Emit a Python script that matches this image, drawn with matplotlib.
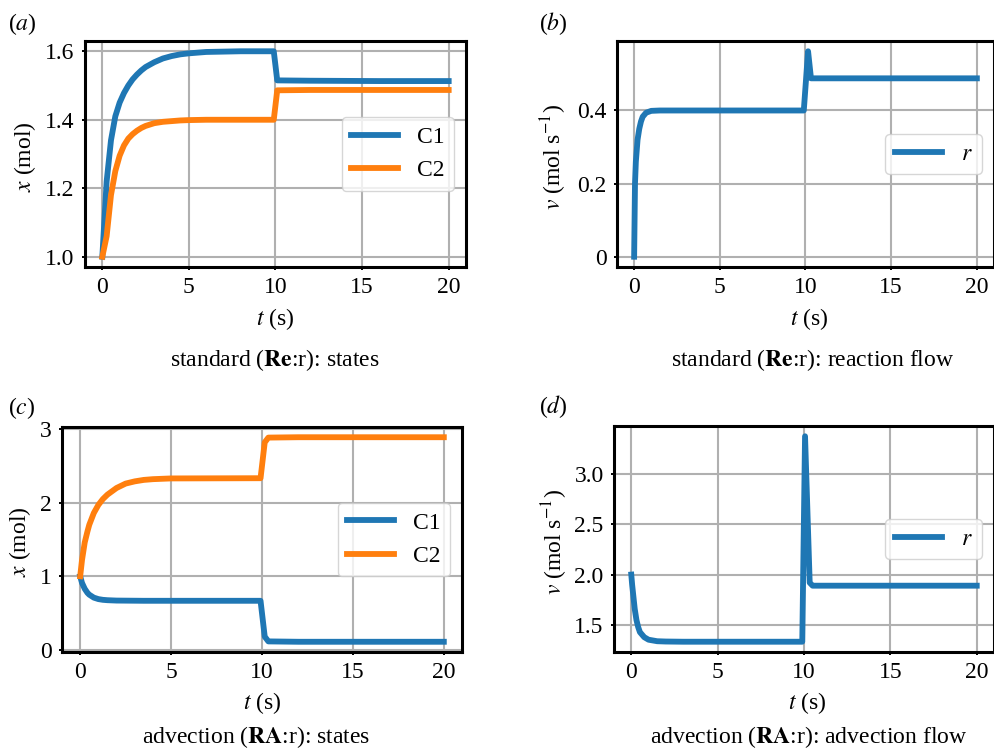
import matplotlib
matplotlib.use("Agg")
import matplotlib.pyplot as plt

plt.rcParams['font.family'] = ['Liberation Serif', 'DejaVu Serif']
plt.rcParams['mathtext.fontset'] = 'stix'

# ---------------- data ----------------
# (a) standard: states
t_a = [0, 0.25, 0.5, 0.75, 1.0, 1.25, 1.5, 1.75, 2.0, 2.25, 2.5, 3.0, 3.5, 4.0, 4.5, 5.0, 6.0, 7.0, 8.0,
       9.9, 10.1, 12.0, 16.0, 20.0]
c1_a = [1.0, 1.22, 1.34, 1.41, 1.45, 1.478, 1.50, 1.518, 1.532, 1.544, 1.554, 1.568, 1.579, 1.586, 1.591,
        1.594, 1.598, 1.599, 1.60, 1.60, 1.515, 1.514, 1.513, 1.513]
c2_a = [1.0, 1.06, 1.18, 1.25, 1.295, 1.325, 1.345, 1.358, 1.368, 1.376, 1.382, 1.39, 1.394, 1.396, 1.398,
        1.399, 1.40, 1.40, 1.40, 1.40, 1.486, 1.487, 1.487, 1.487]

# (b) standard: reaction flow
t_b = [0, 0.05, 0.1, 0.2, 0.3, 0.4, 0.5, 0.7, 1.0, 1.5, 2.0, 5.0, 9.9, 10.15, 10.32, 12.0, 20.0]
v_b = [0.0, 0.2, 0.26, 0.32, 0.35, 0.37, 0.383, 0.394, 0.399, 0.4, 0.4, 0.4, 0.4, 0.562, 0.488, 0.488, 0.488]

# (c) advection: states
t_c = [0, 0.1, 0.25, 0.4, 0.5, 0.75, 1.0, 1.25, 1.5, 2.0, 2.5, 3.0, 3.5, 4.0, 5.0, 9.92, 10.15, 10.35, 12.0, 20.0]
c1_c = [1.0, 0.91, 0.83, 0.775, 0.75, 0.71, 0.69, 0.68, 0.675, 0.67, 0.669, 0.668, 0.667, 0.667, 0.667,
        0.667, 0.18, 0.115, 0.11, 0.11]
c2_c = [1.0, 1.22, 1.46, 1.61, 1.70, 1.86, 1.97, 2.05, 2.11, 2.20, 2.26, 2.29, 2.31, 2.32, 2.33,
        2.333, 2.82, 2.885, 2.89, 2.89]

# (d) advection: advection flow
t_d = [0, 0.05, 0.1, 0.2, 0.3, 0.4, 0.5, 0.75, 1.0, 1.5, 2.0, 3.0, 9.9, 10.06, 10.33, 10.5, 12.0, 20.0]
v_d = [2.0, 1.9, 1.82, 1.66, 1.55, 1.48, 1.43, 1.38, 1.355, 1.34, 1.337, 1.335, 1.335, 3.37, 1.92, 1.89, 1.89, 1.89]

xticks = [0, 5, 10, 15, 20]
yticks_a = [1.0, 1.2, 1.4, 1.6]
ylabels_a = ['1.0', '1.2', '1.4', '1.6']
yticks_b = [0.0, 0.2, 0.4]
ylabels_b = ['0', '0.2', '0.4']
yticks_c = [0, 1, 2, 3]
ylabels_c = ['0', '1', '2', '3']
yticks_d = [1.5, 2.0, 2.5, 3.0]
ylabels_d = ['1.5', '2.0', '2.5', '3.0']

BLUE = '#1f77b4'
ORANGE = '#ff7f0e'
FS = 17
LW = 4.2

W, H = 995, 751
fig = plt.figure(figsize=(W / 100, H / 100), dpi=100)


def ax_at(left, top, right, bottom):
    return fig.add_axes([left / W, 1 - bottom / H, (right - left) / W, (bottom - top) / H])


def style(ax, yt, yl):
    ax.set_xticks(xticks)
    ax.set_xticklabels([str(x) for x in xticks])
    ax.set_yticks(yt)
    ax.set_yticklabels(yl)
    ax.grid(True, color='#b0b0b0', lw=1.5)
    ax.set_axisbelow(True)
    for s in ax.spines.values():
        s.set_linewidth(2.2)
    ax.tick_params(labelsize=FS, length=2.4, width=1.4, pad=5)
    leg = ax.legend(loc='center right', fontsize=FS, handlelength=2.0, framealpha=0.8,
                    edgecolor='#cccccc', fancybox=True)
    leg.get_frame().set_linewidth(1.0)


def ftext(x, y, s, **kw):
    fig.text(x / W, 1 - y / H, s, ha='center', va='center', fontsize=FS, **kw)


# (a)
ax = ax_at(85, 41, 466, 267)
ax.plot(t_a, c1_a, color=BLUE, lw=LW, label='C1')
ax.plot(t_a, c2_a, color=ORANGE, lw=LW, label='C2')
style(ax, yticks_a, ylabels_a)
ftext(22, 24, r'($a$)')
ftext(25, 157, r'$x$ (mol)', rotation=90)
ftext(275, 319, r'$t$ (s)')
ftext(275, 360, r'standard ($\mathbf{Re}$:r): states')

# (b)
ax = ax_at(617, 41, 994, 267)
ax.plot(t_b, v_b, color=BLUE, lw=LW, label=r'$r$')
style(ax, yticks_b, ylabels_b)
ftext(553, 24, r'($b$)')
ftext(554, 157, r'$v$ (mol s$^{-1}$)', rotation=90)
ftext(809, 319, r'$t$ (s)')
ftext(813, 360, r'standard ($\mathbf{Re}$:r): reaction flow')

# (c)
ax = ax_at(62, 427, 462, 652)
ax.plot(t_c, c1_c, color=BLUE, lw=LW, label='C1')
ax.plot(t_c, c2_c, color=ORANGE, lw=LW, label='C2')
style(ax, yticks_c, ylabels_c)
ftext(22, 408, r'($c$)')
ftext(20, 542, r'$x$ (mol)', rotation=90)
ftext(262, 703, r'$t$ (s)')
ftext(256, 737, r'advection ($\mathbf{RA}$:r): states')

# (d)
ax = ax_at(614, 426, 994, 652)
ax.plot(t_d, v_d, color=BLUE, lw=LW, label=r'$r$')
style(ax, yticks_d, ylabels_d)
ftext(553, 407, r'($d$)')
ftext(555, 542, r'$v$ (mol s$^{-1}$)', rotation=90)
ftext(807, 703, r'$t$ (s)')
ftext(809, 737, r'advection ($\mathbf{RA}$:r): advection flow')

fig.savefig('out.png', dpi=100)
